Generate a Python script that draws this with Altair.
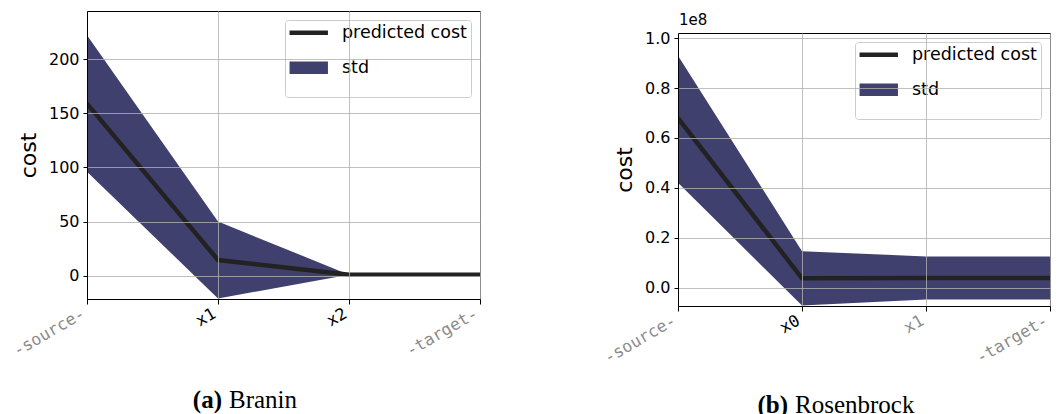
import altair as alt
import pandas as pd

# ---- data -------------------------------------------------------------
branin_params = ['-source-', 'x1', 'x2', '-target-']
branin_mean = [159, 14.5, 1, 1]
branin_upper = [222, 50, 1, 1]
branin_lower = [96, -21, 1, 1]
branin_dark_labels = ['x1', 'x2']

# Rosenbrock values in units of 1e8
rosen_params = ['-source-', 'x0', 'x1', '-target-']
rosen_mean = [0.68, 0.037, 0.038, 0.038]
rosen_upper = [0.93, 0.146, 0.125, 0.125]
rosen_lower = [0.42, -0.072, -0.048, -0.048]
rosen_dark_labels = ['x0']
rosen_offset_text = ['1e8']

branin_yticks = [0, 50, 100, 150, 200]
rosen_yticks = [0.0, 0.2, 0.4, 0.6, 0.8, 1.0]

series_names = ['predicted cost', 'std']
series_colors = ['#222222', '#40406f']
series_widths = [4.5, 12.5]

captions_a = ['(a)', 'Branin']
captions_b = ['(b)', 'Rosenbrock']

# legend symbol: a horizontal stroke drawn to the right of the symbol anchor
SYMBOL_PATH = 'M-4.1,0H15.1'

RIGHT_W = 372


def make_legend():
    return alt.Legend(title=None, orient='top-right', offset=9, padding=4,
                      fillColor='white', strokeColor='#cccccc', cornerRadius=3,
                      labelFont='DejaVu Sans', labelFontSize=17.5,
                      labelColor='black', labelOffset=35.5, rowPadding=0,
                      symbolSize=16, symbolType=SYMBOL_PATH, symbolOpacity=1)


def panel(params, mean, upper, lower, dark, ydomain, yticks, yfmt, w, h,
          caps, cap_y, cap_x):
    df = pd.DataFrame({'param': params, 'mean': mean, 'upper': upper, 'lower': lower})
    test = ' || '.join(f"datum.value === '{d}'" for d in dark)
    label_color = {'condition': {'test': test, 'value': '#000000'}, 'value': '#8c8c8c'}
    x = alt.X('param:N', sort=params,
              scale=alt.Scale(domain=params, padding=0),
              axis=alt.Axis(title=None, labelAngle=-30, labelAlign='right',
                            labelBaseline='bottom', labelFont='DejaVu Sans Mono',
                            labelFontSize=16.5, labelColor=label_color,
                            labelPadding=15, tickSize=5, grid=True,
                            zindex=1, labelOverlap=False, labelBound=False))
    yscale = alt.Scale(domain=ydomain, nice=False, zero=False)
    yaxis = alt.Axis(title='cost', values=yticks, format=yfmt, tickSize=4,
                     labelPadding=4, titlePadding=8, grid=True, zindex=1)

    area = alt.Chart(df).mark_area(clip=True, opacity=1, color=series_colors[1]).encode(
        x=x,
        y=alt.Y('upper:Q', scale=yscale, axis=yaxis),
        y2='lower:Q',
    )
    line = alt.Chart(df).mark_line(clip=True).transform_calculate(
        series="'predicted cost'"
    ).encode(
        x=x,
        y=alt.Y('mean:Q', scale=yscale),
        color=alt.Color('series:N',
                        scale=alt.Scale(domain=series_names, range=series_colors),
                        legend=make_legend()),
        strokeWidth=alt.StrokeWidth('series:N',
                                    scale=alt.Scale(type='ordinal', domain=series_names,
                                                    range=series_widths),
                                    legend=make_legend()),
    )
    capdf = pd.DataFrame({'a': [caps[0]], 'b': [caps[1]]})
    cap_a = alt.Chart(capdf).mark_text(
        font='Liberation Serif', fontSize=25, fontWeight='bold', align='right',
        baseline='alphabetic', color='black'
    ).encode(text='a:N', x=alt.value(cap_x[0]), y=alt.value(cap_y))
    cap_b = alt.Chart(capdf).mark_text(
        font='Liberation Serif', fontSize=25, align='left',
        baseline='alphabetic', color='black'
    ).encode(text='b:N', x=alt.value(cap_x[1]), y=alt.value(cap_y))
    return alt.layer(area, line, cap_a, cap_b).properties(width=w, height=h)


left = panel(branin_params, branin_mean, branin_upper, branin_lower,
             branin_dark_labels, [-21.5, 244.5], branin_yticks, 'd',
             393, 288, captions_a, 397, (135, 142))
right = panel(rosen_params, rosen_mean, rosen_upper, rosen_lower,
              rosen_dark_labels, [-0.074, 1.021], rosen_yticks, '.1f',
              RIGHT_W, 273, captions_b, 380, (110, 117))

# band above the right panel holding the axis offset text "1e8"
offset_band = alt.Chart(pd.DataFrame({'t': rosen_offset_text})).mark_text(
    align='left', baseline='alphabetic', font='DejaVu Sans', fontSize=15,
    color='black'
).encode(text='t:N', x=alt.value(1), y=alt.value(13.5)).properties(
    width=RIGHT_W, height=17, view=alt.ViewBackground(stroke='transparent')
)

right_col = alt.vconcat(offset_band, right, spacing=0).resolve_scale(
    color='independent', strokeWidth='independent'
).resolve_legend(color='independent', strokeWidth='independent')

chart = alt.hconcat(left, right_col, spacing=119).resolve_scale(
    color='independent', strokeWidth='independent', y='independent', x='independent'
).resolve_legend(color='independent', strokeWidth='independent').configure_view(
    stroke='black', strokeWidth=1
).configure_axis(
    labelFont='DejaVu Sans', labelFontSize=16, labelColor='black',
    titleFont='DejaVu Sans', titleFontSize=22, titleFontWeight='normal',
    titleColor='black', tickColor='black', domainColor='black',
    gridColor='#b0b0b0', gridWidth=0.8, gridOpacity=1
).properties(padding={'left': 1, 'top': 2, 'right': 0, 'bottom': 0})

chart.save('out.html', embed_options={'renderer': 'svg', 'actions': False})
